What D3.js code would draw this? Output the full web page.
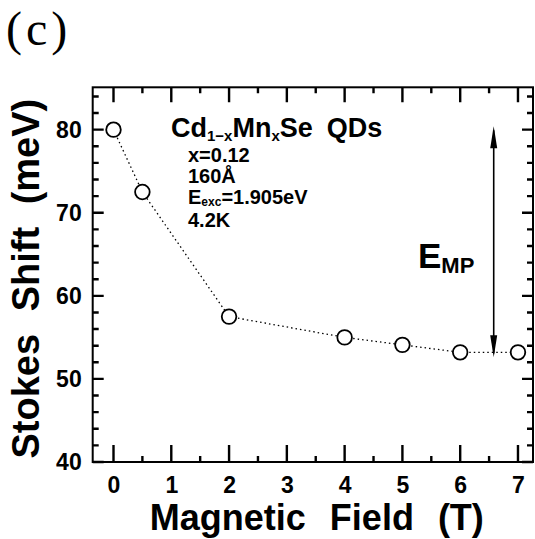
<!DOCTYPE html>
<html><head><meta charset="utf-8">
<script src="https://cdn.jsdelivr.net/npm/d3@7"></script>
<style>html,body{margin:0;padding:0;background:#fff;}svg{display:block;}</style>
</head><body>
<script>
// ---- data ----
const fieldT = [0, 0.5, 2, 4, 5, 6, 7];
const stokesShift = [80, 72.5, 57.5, 55.0, 54.1, 53.2, 53.2];
const xTickValues = [0, 1, 2, 3, 4, 5, 6, 7];
const xMinorTicks = [0.5, 1.5, 2.5, 3.5, 4.5, 5.5, 6.5];
const yTickValues = [40, 50, 60, 70, 80];
const yMinorTicks = [42, 44, 46, 48, 52, 54, 56, 58, 62, 64, 66, 68, 72, 74, 76, 78, 82, 84];
const infoLines = ["x=0.12", "160Å", "E|exc|=1.905eV", "4.2K"];
const arrowX = [6.58];
const arrowRange = [80.4, 52.6];

(function () {
const W = 535, H = 539;
const svg = d3.select("body").append("svg").attr("width", W).attr("height", H);
const font = "'Liberation Sans', Arial, Helvetica, sans-serif";

const pLeft = 92.7, pRight = 533, pTop = 87.3, pBottom = 462;
const x = d3.scaleLinear().domain([-0.36, 7.26]).range([pLeft, pRight]);
const y = d3.scaleLinear().domain([40, 85.1]).range([pBottom, pTop]);

// frame
svg.append("rect").attr("x", pLeft).attr("y", pTop).attr("width", pRight - pLeft).attr("height", pBottom - pTop)
  .attr("fill", "none").attr("stroke", "#000").attr("stroke-width", 2);

// inward ticks as one path per group, built from the scales
function tickPath(vals, scale, orient, size) {
  let d = "";
  vals.forEach(v => {
    const p = scale(v);
    if (orient === "bottom") d += `M${p},${pBottom}V${pBottom - size}`;
    if (orient === "top") d += `M${p},${pTop}V${pTop + size}`;
    if (orient === "left") d += `M${pLeft},${p}H${pLeft + size}`;
    if (orient === "right") d += `M${pRight},${p}H${pRight - size}`;
  });
  svg.append("path").attr("d", d).attr("fill", "none").attr("stroke", "#000").attr("stroke-width", 2.4);
}
tickPath(xTickValues, x, "bottom", 17);
tickPath(xMinorTicks, x, "bottom", 6);
tickPath(xTickValues, x, "top", 15);
tickPath(xMinorTicks, x, "top", 6);
tickPath(yTickValues, y, "left", 11);
tickPath(yMinorTicks, y, "left", 6);
tickPath(yTickValues, y, "right", 11);
tickPath(yMinorTicks, y, "right", 6);

// tick labels
const xAxis = svg.append("g").attr("transform", `translate(0,${pBottom})`)
  .call(d3.axisBottom(x).tickValues(xTickValues).tickSize(0).tickPadding(15).tickFormat(d3.format("d")));
xAxis.select(".domain").remove();
xAxis.selectAll("text").attr("font-family", font).attr("font-weight", "bold").attr("font-size", 23).attr("fill", "#000");

const yAxis = svg.append("g").attr("transform", `translate(${pLeft},0)`)
  .call(d3.axisLeft(y).tickValues(yTickValues).tickSize(0).tickPadding(11).tickFormat(d3.format("d")));
yAxis.select(".domain").remove();
yAxis.selectAll("text").attr("font-family", font).attr("font-weight", "bold").attr("font-size", 23).attr("fill", "#000");

// axis titles
svg.append("text").attr("x", (pLeft + pRight) / 2 + 4).attr("y", 530).attr("text-anchor", "middle")
  .attr("font-family", font).attr("font-weight", "bold").attr("font-size", 36).attr("word-spacing", 14)
  .text("Magnetic Field (T)");
svg.append("text").attr("transform", `translate(39,${(pTop + pBottom) / 2 + 4}) rotate(-90)`).attr("text-anchor", "middle")
  .attr("font-family", font).attr("font-weight", "bold").attr("font-size", 38).attr("word-spacing", 12)
  .text("Stokes Shift (meV)");

// panel label
svg.append("text").attr("x", 6).attr("y", 45).attr("font-family", "'Liberation Serif', 'Times New Roman', serif")
  .attr("font-size", 48).attr("letter-spacing", 4).text("(c)");

// data line + markers
const line = d3.line().x((d, i) => x(fieldT[i])).y(d => y(d));
svg.append("path").datum(stokesShift).attr("d", line).attr("fill", "none").attr("stroke", "#000")
  .attr("stroke-width", 1.3).attr("stroke-dasharray", "1.5,3");
svg.selectAll("circle.pt").data(stokesShift).enter().append("circle").attr("class", "pt")
  .attr("cx", (d, i) => x(fieldT[i])).attr("cy", d => y(d)).attr("r", 7.3)
  .attr("fill", "#fff").attr("stroke", "#000").attr("stroke-width", 1.8);

// arrow
const ax = x(arrowX[0]), ay1 = y(arrowRange[0]), ay2 = y(arrowRange[1]);
svg.append("line").attr("x1", ax).attr("x2", ax).attr("y1", ay1 + 4).attr("y2", ay2 - 4)
  .attr("stroke", "#000").attr("stroke-width", 1.6);
svg.append("path").attr("d", `M${ax},${ay1} L${ax - 3.5},${ay1 + 22} L${ax + 3.5},${ay1 + 22} Z`).attr("fill", "#000");
svg.append("path").attr("d", `M${ax},${ay2} L${ax - 3.5},${ay2 - 22} L${ax + 3.5},${ay2 - 22} Z`).attr("fill", "#000");

// E_MP label
const emp = svg.append("text").attr("x", 418).attr("y", 268).attr("font-family", font).attr("font-weight", "bold");
emp.append("tspan").attr("font-size", 35).text("E");
emp.append("tspan").attr("font-size", 22).attr("dy", 5).text("MP");

// annotation title
const t1 = svg.append("text").attr("x", 171).attr("y", 137).attr("font-family", font).attr("font-weight", "bold")
  .attr("font-size", 27);
t1.append("tspan").text("Cd");
t1.append("tspan").attr("font-size", 15).attr("dy", 4).text("1−x");
t1.append("tspan").attr("dy", -4).text("Mn");
t1.append("tspan").attr("font-size", 15).attr("dy", 4).text("x");
t1.append("tspan").attr("dy", -4).text("Se");
t1.append("tspan").attr("dx", 14).text("QDs");

// info lines
const baselines = [162, 183, 204, 227];
infoLines.forEach((s, i) => {
  const t = svg.append("text").attr("x", 188).attr("y", baselines[i]).attr("font-family", font)
    .attr("font-weight", "bold").attr("font-size", 20);
  const parts = s.split("|");
  t.append("tspan").text(parts[0]);
  if (parts.length > 1) {
    t.append("tspan").attr("font-size", 12).attr("dy", 2).text(parts[1]);
    t.append("tspan").attr("dy", -2).text(parts[2]);
  }
});
})();
</script>
</body></html>
